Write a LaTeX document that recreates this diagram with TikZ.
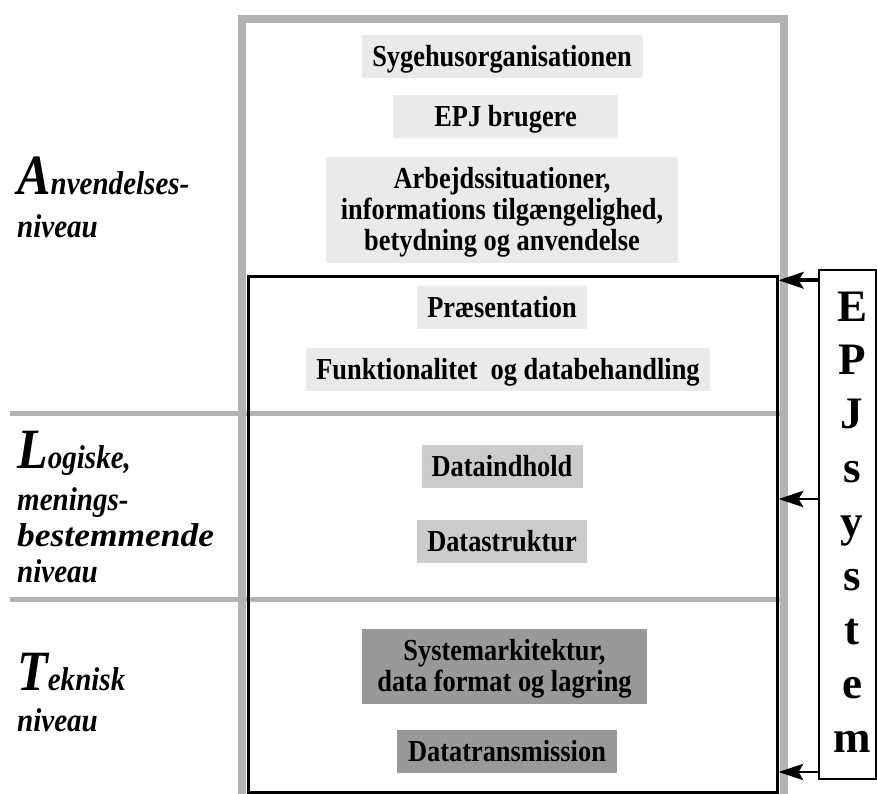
\documentclass[tikz,border=0pt]{standalone}
\usepackage{fontspec}
\setmainfont{Liberation Serif}
\newfontfamily\lblfont[FakeStretch=0.88]{Liberation Serif}
\newfontfamily\boxfamily[FakeStretch=0.865]{Liberation Serif}
\usetikzlibrary{arrows.meta}

\definecolor{framegray}{HTML}{B3B3B3}
\definecolor{lightfill}{HTML}{EAEAEA}
\definecolor{midfill}{HTML}{CCCCCC}
\definecolor{darkfill}{HTML}{999999}

% large first letter of a level name
\newcommand\levelinitial[1]{{\fontsize{57}{57}\selectfont #1}}

\begin{document}
\begin{tikzpicture}[x=1pt,y=-1pt,
  boxfont/.style={font=\boxfamily\fontsize{30.5}{31}\selectfont\bfseries},
  sbox/.style={boxfont, fill=#1, inner sep=0pt, minimum height=43pt,
    text height=20.2pt, text depth=0pt},
  mbox/.style={boxfont, fill=#1, inner sep=0pt, align=center},
  lbl/.style={font=\lblfont\fontsize{33}{36}\selectfont\bfseries\itshape,
    anchor=base west, inner sep=0pt},
  letter/.style={font=\fontsize{45}{45}\selectfont\bfseries, anchor=base, inner sep=0pt},
  ptr/.style={-{Stealth[length=25pt,width=16.5pt,inset=5pt]}, line width=#1},
]
\useasboundingbox (0,0) rectangle (877,794);

% outer grey frame and level separators
\draw[framegray, line width=8.5pt, line join=miter]
  (242,794) -- (242,19) -- (784,19) -- (784,794);
\draw[framegray, line width=5pt] (10,413) -- (780,413);
\draw[framegray, line width=5pt] (10,599) -- (780,599);

% application level
\node[sbox=lightfill, minimum width=281pt] (org) at (502,56.5) {Sygehusorganisationen};
\node[sbox=lightfill, minimum width=225pt] (users) at (505.5,116.3) {EPJ brugere};
\node[mbox=lightfill, minimum width=352pt, minimum height=106pt] (work) at (502,210)
  {\rule{0pt}{26pt}Arbejdssituationer,\\ informations tilgængelighed,\\
   betydning og anvendelse\rule[-6pt]{0pt}{6pt}};
\node[sbox=lightfill, minimum width=170pt] (pres) at (502,307.3) {Præsentation};
\node[sbox=lightfill, minimum width=404pt] (func) at (508,369.3)
  {Funktionalitet\ \ og databehandling};

% logical level
\node[sbox=midfill, minimum width=161pt] (content) at (502,466.4) {Dataindhold};
\node[sbox=midfill, minimum width=170pt] (struct) at (502,541.4) {Datastruktur};

% technical level
\node[mbox=darkfill, minimum width=285pt, minimum height=75pt] (arch) at (504.5,666.4)
  {\rule{0pt}{26pt}Systemarkitektur,\\ data format og lagring\rule[-6pt]{0pt}{6pt}};
\node[sbox=darkfill, minimum width=220pt] (trans) at (507,751.4) {Datatransmission};

% EPJ system box
\node[draw, line width=3pt, minimum width=529pt, minimum height=516pt, inner sep=0pt]
  (sys) at (512.5,534) {};
\node[draw, line width=1.2pt, minimum width=57pt, minimum height=509pt, inner sep=0pt]
  (epj) at (847.5,524.5) {};
\foreach \ch [count=\i] in {E,P,J,s,y,s,t,e,m}
  \node[letter] (epj\i) at (852,{321+53.9*(\i-1)}) {\ch};

% pointers from the EPJ box into the system
\coordinate (hA) at (0,280.3);
\coordinate (hB) at (0,499);
\coordinate (hC) at (0,772);
\draw[ptr=4pt] (epj.west |- hA) -- (sys.east |- hA);
\draw[ptr=2pt] (epj.west |- hB) -- (sys.east |- hB);
\draw[ptr=2pt] (epj.west |- hC) -- (sys.east |- hC);

% level labels
\node[lbl] (a1) at (17,195) {\levelinitial{A}nvendelses-};
\node[lbl] (a2) at (17,237) {niveau};
\node[lbl] (l1) at (17,468) {\levelinitial{L}ogiske,};
\node[lbl] (l2) at (17,510) {menings-};
\node[lbl] (l3) at (17,546) {\scalebox{1.22}[1]{bestemmende}};
\node[lbl] (l4) at (17,582) {niveau};
\node[lbl] (t1) at (17,690.5) {\levelinitial{T}eknisk};
\node[lbl] (t2) at (17,731) {niveau};
\end{tikzpicture}
\end{document}
